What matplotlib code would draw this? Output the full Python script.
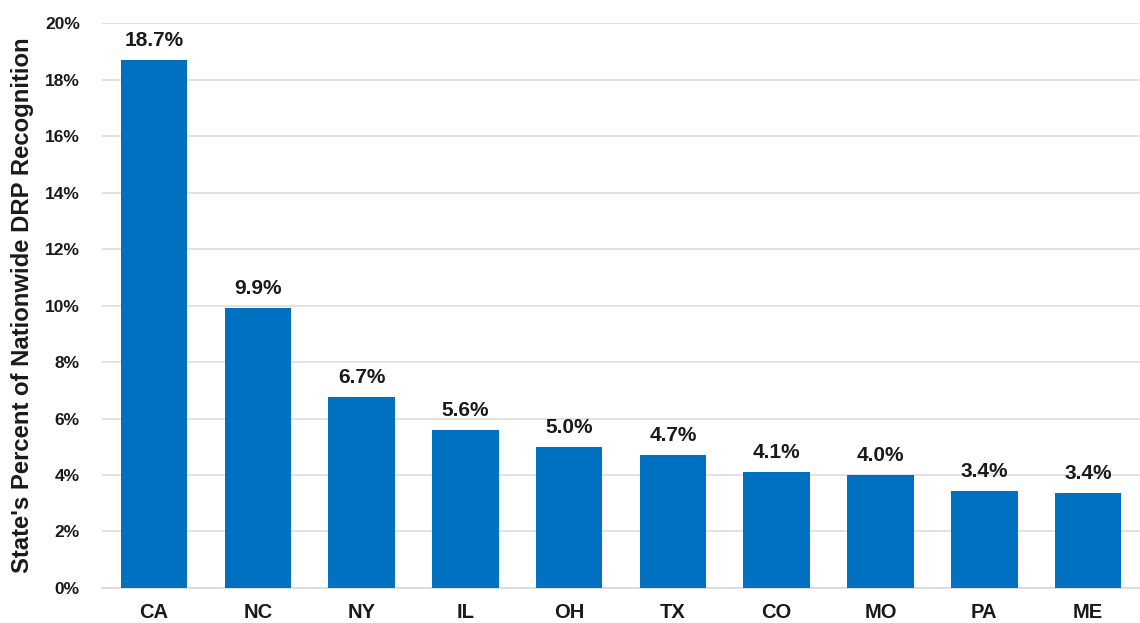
import matplotlib
matplotlib.use("Agg")
import matplotlib.pyplot as plt
from matplotlib.ticker import FuncFormatter, MultipleLocator

states = ["CA", "NC", "NY", "IL", "OH", "TX", "CO", "MO", "PA", "ME"]
values = [18.7, 9.9, 6.75, 5.6, 5.0, 4.7, 4.1, 4.0, 3.42, 3.36]
labels = ["18.7%", "9.9%", "6.7%", "5.6%", "5.0%", "4.7%", "4.1%", "4.0%", "3.4%", "3.4%"]

plt.rcParams['font.family'] = ['Liberation Sans', 'DejaVu Sans']

fig = plt.figure(figsize=(11.4, 6.23), dpi=100)
ax = fig.add_axes([0.0895, 0.0562, 0.9105, 0.9068])

x = range(len(states))
bars = ax.bar(x, values, width=0.64, color="#0070C0", zorder=3)
for b, lab in zip(bars, labels):
    ax.text(b.get_x() + b.get_width() / 2, b.get_height() + 0.35, lab,
            ha="center", va="bottom", fontsize=15, fontweight="bold", color="#1a1a1a")

ax.set_xlim(-0.5, len(states) - 0.5)
ax.set_ylim(0, 20)
ax.yaxis.set_major_locator(MultipleLocator(2))
ax.yaxis.set_major_formatter(FuncFormatter(lambda v, p: f"{v:.0f}%"))
ax.set_xticks(list(x))
ax.set_xticklabels(states)
ax.grid(axis="y", color="#DDDDDD", linewidth=1.2, zorder=0)
for s in ["top", "right", "left"]:
    ax.spines[s].set_visible(False)
ax.spines["bottom"].set_color("#D9D9D9")
ax.spines["bottom"].set_linewidth(1.2)
ax.tick_params(axis="y", length=0, labelsize=12.5, colors="#1a1a1a", pad=16)
ax.tick_params(axis="x", length=0, labelsize=14.5, colors="#1a1a1a", pad=11)
for t in ax.get_xticklabels() + ax.get_yticklabels():
    t.set_fontweight("bold")
fig.text(23 / 1140, 1 - 305 / 623, "State's Percent of Nationwide DRP Recognition",
         rotation=90, ha="center", va="center", fontsize=17.2,
         fontweight="bold", color="#1a1a1a")

fig.savefig("out.png", dpi=100)
